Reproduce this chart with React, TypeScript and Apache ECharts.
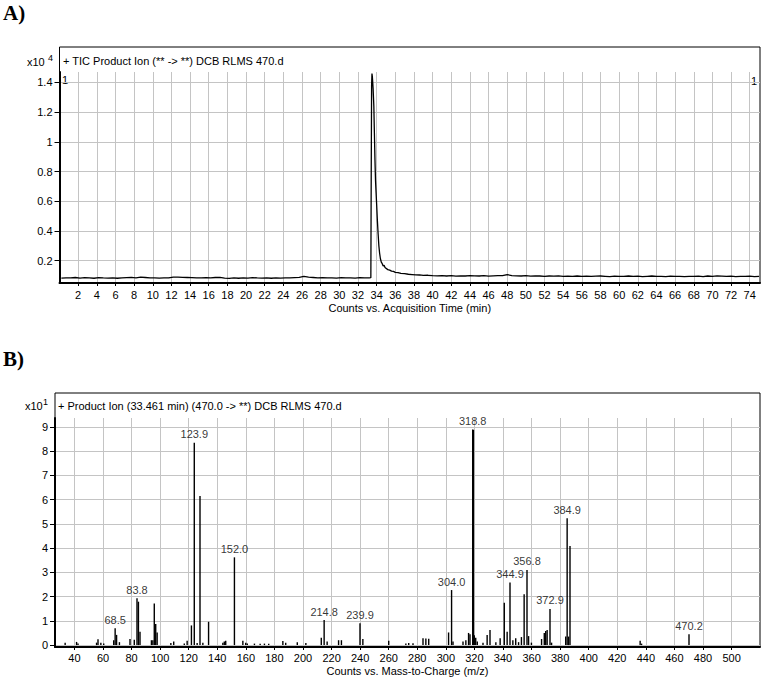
import React, { useEffect, useRef } from "react";
import * as echarts from "echarts";

// ---------- A) TIC chromatogram (x10^4 counts) ----------
const ticTime = [
  0.2, 0.7, 1.2, 1.7, 2.2, 2.7, 3.2, 3.7, 4.2, 4.7, 5.2, 5.7, 6.2, 6.7, 7.2, 7.7, 8.2, 8.7, 9.2, 9.7,
  10.2, 10.7, 11.2, 11.7, 12.2, 12.7, 13.2, 13.7, 14.2, 14.7, 15.2, 15.7, 16.2, 16.7, 17.2, 17.7, 18.2, 18.7, 19.2, 19.7,
  20.2, 20.7, 21.2, 21.7, 22.2, 22.7, 23.2, 23.7, 24.2, 24.7, 25.2, 25.7, 26.2, 26.7, 27.2, 27.7, 28.2, 28.7, 29.2, 29.7,
  30.2, 30.7, 31.2, 31.7, 32.2, 32.7, 33.2,
  33.38, 33.42, 33.46, 33.5, 33.54, 33.58, 33.62, 33.66, 33.7, 33.76, 33.82, 33.88, 33.94, 34.0, 34.08, 34.16, 34.24, 34.32,
  34.4, 34.5, 34.6, 34.7, 34.8, 34.9, 35.0, 35.2, 35.4, 35.6, 35.8, 36.0, 36.3, 36.6, 37.0, 37.4, 37.8, 38.2, 38.6, 39.0,
  39.5, 40.0,
  40.5, 41, 41.5, 42, 42.5, 43, 43.5, 44, 44.5, 45, 45.5, 46, 46.5, 47, 47.5, 48, 48.5, 49, 49.5, 50,
  50.5, 51, 51.5, 52, 52.5, 53, 53.5, 54, 54.5, 55, 55.5, 56, 56.5, 57, 57.5, 58, 58.5, 59, 59.5, 60,
  60.5, 61, 61.5, 62, 62.5, 63, 63.5, 64, 64.5, 65, 65.5, 66, 66.5, 67, 67.5, 68, 68.5, 69, 69.5, 70,
  70.5, 71, 71.5, 72, 72.5, 73, 73.5, 74, 74.5, 75,
];
const ticCounts = [
  0.083, 0.085, 0.084, 0.087, 0.083, 0.086, 0.085, 0.082, 0.086, 0.084,
  0.083, 0.085, 0.082, 0.084, 0.086, 0.088, 0.085, 0.089, 0.087, 0.085,
  0.084, 0.083, 0.085, 0.084, 0.09, 0.089, 0.088, 0.087, 0.086, 0.084,
  0.085, 0.086, 0.085, 0.087, 0.088, 0.083, 0.081, 0.084, 0.082, 0.085,
  0.083, 0.086, 0.084, 0.083, 0.085, 0.082, 0.084, 0.083, 0.085, 0.084,
  0.086, 0.088, 0.094, 0.089, 0.087, 0.085, 0.086, 0.084, 0.085, 0.083,
  0.086, 0.084, 0.085, 0.083, 0.086, 0.084, 0.085,
  0.086, 0.79, 1.38, 1.46, 1.44, 1.4, 1.36, 1.3, 1.24, 1.06, 0.88, 0.74, 0.66, 0.58, 0.47, 0.38, 0.3, 0.25,
  0.215, 0.19, 0.18, 0.165, 0.17, 0.155, 0.15, 0.14, 0.137, 0.13, 0.128, 0.122, 0.12, 0.115, 0.113, 0.109, 0.107, 0.105, 0.104, 0.101,
  0.102, 0.099,
  0.098, 0.1, 0.097, 0.099, 0.096, 0.098, 0.097, 0.1, 0.098, 0.097,
  0.099, 0.096, 0.098, 0.1, 0.099, 0.106, 0.1, 0.098, 0.097, 0.099,
  0.096, 0.098, 0.097, 0.095, 0.097, 0.096, 0.098, 0.095, 0.096, 0.094,
  0.097, 0.095, 0.096, 0.094, 0.096, 0.097, 0.095, 0.093, 0.096, 0.094,
  0.095, 0.097, 0.094, 0.096, 0.093, 0.095, 0.097, 0.094, 0.095, 0.093,
  0.096, 0.094, 0.095, 0.093, 0.095, 0.094, 0.096, 0.093, 0.097, 0.095,
  0.098, 0.096, 0.094, 0.096, 0.093, 0.095, 0.094, 0.096, 0.093, 0.095,
];

// ---------- B) Product ion spectrum (x10^1 counts) ----------
const msMz = [
  33.5, 41.5, 42.5, 55.5, 56.5, 58.5, 60.5, 67.5, 68.5, 69.5, 71.5, 78.9, 81.9, 83.8, 84.8, 85.9,
  93.9, 94.9, 95.9, 96.9, 97.9, 107.5, 109.5, 116.9, 118.9, 121.9, 123.9, 125.9, 127.9, 129.9, 133.9,
  143.9, 144.9, 145.9, 152.0, 157.9, 159.9, 161, 166, 170, 173, 176, 185.9, 187.9, 196, 202,
  212.8, 214.8, 216.9, 224.9, 226.9, 239.9, 241.9, 260, 272, 274, 277, 284, 286, 288,
  301.9, 304.0, 305, 312, 314, 315.9, 316.9, 318.8, 319.3, 319.9, 320.9, 322, 326, 328.9, 330.9,
  335, 338, 340.9, 342.9, 344.9, 346.9, 348.9, 350.9, 352.9, 354.8, 356.8, 357.9, 359.9,
  367, 368.9, 369.9, 370.9, 372.9, 374, 383.9, 384.9, 385.9, 386.9, 436, 437, 470.2,
];
const msAbund = [
  0.1, 0.13, 0.06, 0.1, 0.24, 0.1, 0.06, 0.2, 0.69, 0.42, 0.12, 0.25, 0.22, 1.93, 1.79, 0.55,
  0.2, 0.2, 1.72, 0.87, 0.52, 0.08, 0.15, 0.06, 0.18, 0.81, 8.35, 0.08, 6.15, 0.1, 0.96,
  0.1, 0.15, 0.18, 3.62, 0.18, 0.1, 0.06, 0.06, 0.05, 0.06, 0.05, 0.17, 0.1, 0.12, 0.08,
  0.3, 1.03, 0.15, 0.2, 0.2, 0.9, 0.25, 0.18, 0.06, 0.08, 0.07, 0.28, 0.27, 0.26,
  0.52, 2.27, 0.15, 0.15, 0.2, 0.5, 0.45, 8.9, 8.88, 0.4, 0.3, 0.15, 0.1, 0.42, 0.62,
  0.12, 0.28, 1.75, 0.55, 2.58, 0.2, 0.28, 0.12, 0.33, 2.1, 3.1, 0.37, 0.1,
  0.25, 0.5, 0.58, 0.62, 1.49, 0.1, 0.35, 5.23, 0.35, 4.09, 0.18, 0.06, 0.45,
];
const labeledMz = [68.5, 83.8, 123.9, 152.0, 214.8, 239.9, 304.0, 318.8, 344.9, 356.8, 372.9, 384.9, 470.2];
const labeledAbund = [0.69, 1.93, 8.35, 3.62, 1.03, 0.9, 2.27, 8.9, 2.58, 3.1, 1.49, 5.23, 0.45];

const FONT = "'Liberation Sans', Arial, sans-serif";
const GRID_COLOR = "#c4c4c4";

export default function App() {
  const ref = useRef<HTMLDivElement>(null);

  useEffect(() => {
    if (!ref.current) return;
    const chart = echarts.init(ref.current, undefined, { renderer: "svg" });

    const labelStyle = { color: "#000", fontSize: 11, fontFamily: FONT };

    const option: any = {
      animation: false,
      backgroundColor: "#fff",
      textStyle: { fontFamily: FONT },
      grid: [
        { left: 59.5, right: 3, top: 72, bottom: 395, containLabel: false },
        { left: 55, right: 3, top: 418, bottom: 31, containLabel: false },
      ],
      xAxis: [
        {
          type: "value",
          gridIndex: 0,
          min: 0,
          max: 75.1,
          interval: 2,
          name: "Counts vs. Acquisition Time (min)",
          nameLocation: "middle",
          nameGap: 19,
          nameTextStyle: { ...labelStyle },
          axisLine: { show: true, onZero: false, lineStyle: { color: "#000", width: 2 } },
          axisTick: { show: true, length: 3, lineStyle: { color: "#000" } },
          axisLabel: { ...labelStyle, margin: 6, showMinLabel: false, showMaxLabel: false },
          splitLine: { show: true, showMinLine: false, showMaxLine: false, lineStyle: { color: GRID_COLOR, width: 1 } },
        },
        {
          type: "value",
          gridIndex: 1,
          min: 26.4,
          max: 519.9,
          splitNumber: 25,
          name: "Counts vs. Mass-to-Charge (m/z)",
          nameLocation: "middle",
          nameGap: 18,
          nameTextStyle: { ...labelStyle },
          axisLine: { show: true, onZero: false, lineStyle: { color: "#000", width: 2 } },
          axisTick: { show: true, length: 3, lineStyle: { color: "#000" } },
          axisLabel: { ...labelStyle, margin: 5, showMinLabel: false, showMaxLabel: false },
          splitLine: { show: true, showMinLine: false, showMaxLine: false, lineStyle: { color: GRID_COLOR, width: 1 } },
        },
      ],
      yAxis: [
        {
          type: "value",
          gridIndex: 0,
          min: 0.05,
          max: 1.47,
          splitNumber: 7,
          axisLine: { show: true, onZero: false, lineStyle: { color: "#000", width: 2 } },
          axisTick: { show: true, length: 5, lineStyle: { color: "#000" } },
          axisLabel: { ...labelStyle, margin: 7, showMinLabel: false, showMaxLabel: false },
          splitLine: { show: true, showMinLine: false, showMaxLine: false, lineStyle: { color: GRID_COLOR, width: 1 } },
        },
        {
          type: "value",
          gridIndex: 1,
          min: -0.08,
          max: 9.37,
          splitNumber: 9,
          axisLine: { show: true, onZero: false, lineStyle: { color: "#000", width: 2 } },
          axisTick: { show: true, length: 5, lineStyle: { color: "#000" } },
          axisLabel: { ...labelStyle, margin: 7, showMinLabel: false, showMaxLabel: false },
          splitLine: { show: true, showMinLine: false, showMaxLine: false, lineStyle: { color: GRID_COLOR, width: 1 } },
        },
      ],
      series: [
        {
          type: "line",
          xAxisIndex: 0,
          yAxisIndex: 0,
          data: ticTime.map((t, i) => [t, ticCounts[i]]),
          showSymbol: false,
          symbol: "none",
          lineStyle: { color: "#000", width: 1.3 },
          silent: true,
        },
        {
          type: "custom",
          xAxisIndex: 1,
          yAxisIndex: 1,
          data: msMz.map((m, i) => [m, msAbund[i]]),
          renderItem: (params: any, api: any) => {
            const x = api.value(0);
            const y = api.value(1);
            const p0 = api.coord([x, 0]);
            const p1 = api.coord([x, y]);
            return {
              type: "line",
              shape: { x1: p0[0], y1: p0[1], x2: p1[0], y2: p1[1] },
              style: { stroke: "#000", lineWidth: 1.4 },
            };
          },
          silent: true,
        },
        {
          type: "scatter",
          xAxisIndex: 1,
          yAxisIndex: 1,
          data: labeledMz.map((m, i) => [m, labeledAbund[i]]),
          symbolSize: 0,
          itemStyle: { color: "#000" },
          label: {
            show: true,
            position: "top",
            distance: 3,
            ...labelStyle,
            textBorderWidth: 0,
            formatter: (p: any) => p.value[0].toFixed(1),
          },
          silent: true,
        },
      ],
      graphic: [
        { type: "rect", shape: { x: 59.5, y: 47, width: 700.5, height: 236 }, style: { fill: "none", stroke: "#000", lineWidth: 1 }, silent: true },
        { type: "rect", shape: { x: 55, y: 393, width: 705, height: 254 }, style: { fill: "none", stroke: "#000", lineWidth: 1 }, silent: true },
        { type: "text", left: 3, top: 2, style: { text: "A)", fontSize: 21, fontWeight: "bold", fontFamily: "'Liberation Serif', 'Times New Roman', serif", fill: "#000" } },
        { type: "text", left: 3, top: 348, style: { text: "B)", fontSize: 21, fontWeight: "bold", fontFamily: "'Liberation Serif', 'Times New Roman', serif", fill: "#000" } },
        { type: "text", x: 27, y: 62, style: { text: "x10", fontSize: 11, fontFamily: FONT, fill: "#000", verticalAlign: "middle" } },
        { type: "text", x: 48, y: 58, style: { text: "4", fontSize: 9, fontFamily: FONT, fill: "#000", verticalAlign: "middle" } },
        { type: "text", x: 63, y: 61, style: { text: "+ TIC Product Ion (** -> **) DCB RLMS 470.d", fontSize: 11, fontFamily: FONT, fill: "#000", verticalAlign: "middle" } },
        { type: "text", x: 62, y: 80, style: { text: "1", fontSize: 11, fontFamily: FONT, fill: "#000", verticalAlign: "middle" } },
        { type: "text", x: 757, y: 81, style: { text: "1", fontSize: 11, fontFamily: FONT, fill: "#000", verticalAlign: "middle", align: "right" } },
        { type: "text", x: 25, y: 406, style: { text: "x10", fontSize: 11, fontFamily: FONT, fill: "#000", verticalAlign: "middle" } },
        { type: "text", x: 43, y: 402, style: { text: "1", fontSize: 9, fontFamily: FONT, fill: "#000", verticalAlign: "middle" } },
        { type: "text", x: 58, y: 406, style: { text: "+ Product Ion (33.461 min) (470.0 -> **) DCB RLMS 470.d", fontSize: 11, fontFamily: FONT, fill: "#000", verticalAlign: "middle" } },
      ],
    };

    chart.setOption(option);
    return () => chart.dispose();
  }, []);

  return (
    <div
      ref={ref}
      style={{ position: "fixed", left: 0, top: 0, width: 763, height: 678, background: "#fff" }}
    />
  );
}
